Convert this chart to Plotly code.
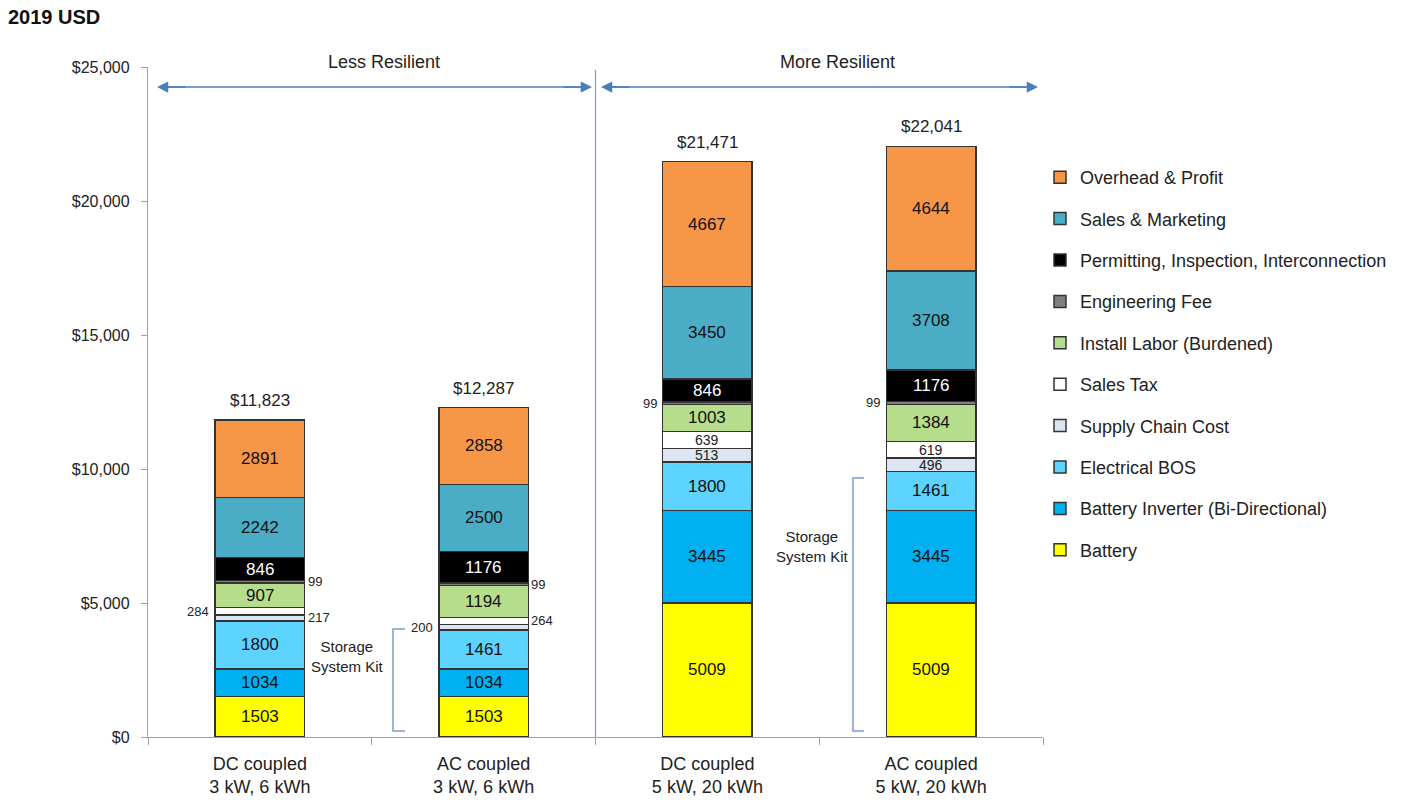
import plotly.graph_objects as go

categories = ["DC coupled<br>3 kW, 6 kWh", "AC coupled<br>3 kW, 6 kWh",
              "DC coupled<br>5 kW, 20 kWh", "AC coupled<br>5 kW, 20 kWh"]

# bottom-to-top stack order
battery = [1503, 1503, 5009, 5009]
inverter = [1034, 1034, 3445, 3445]
electrical_bos = [1800, 1461, 1800, 1461]
supply_chain = [217, 200, 513, 496]
sales_tax = [284, 264, 639, 619]
install_labor = [907, 1194, 1003, 1384]
engineering_fee = [99, 99, 99, 99]
permitting = [846, 1176, 846, 1176]
sales_marketing = [2242, 2500, 3450, 3708]
overhead_profit = [2891, 2858, 4667, 4644]
totals = [11823, 12287, 21471, 22041]

series_names = ["Battery", "Battery Inverter (Bi-Directional)", "Electrical BOS",
                "Supply Chain Cost", "Sales Tax", "Install Labor (Burdened)",
                "Engineering Fee", "Permitting, Inspection, Interconnection",
                "Sales & Marketing", "Overhead & Profit"]
series_values = [battery, inverter, electrical_bos, supply_chain, sales_tax,
                 install_labor, engineering_fee, permitting, sales_marketing,
                 overhead_profit]

colors = ["#FFFF00", "#00B0F0", "#5DD3FF", "#DCE6F2", "#FFFFFF",
          "#B5DD8B", "#7F7F7F", "#000000", "#4BACC6", "#F79646"]
text_colors = ["#111"] * 7 + ["white"] + ["#111"] * 2

# label placement per series per bar: in / small / left / right
placement = [
    ["in", "in", "in", "in"],
    ["in", "in", "in", "in"],
    ["in", "in", "in", "in"],
    ["right", "left", "small", "small"],
    ["left", "right", "small", "small"],
    ["in", "in", "in", "in"],
    ["right", "right", "left", "left"],
    ["in", "in", "in", "in"],
    ["in", "in", "in", "in"],
    ["in", "in", "in", "in"],
]

FONT = "Arial, Liberation Sans, sans-serif"

# layout geometry in page pixels
W, H = 1405, 803
L, T, PW, PH = 148, 67, 895, 670


def px_x(X):
    return (X - L) / PW


def px_y(Y):
    return (T + PH - Y) / PH


fig = go.Figure()
n = len(series_names)
for i, (name, vals) in enumerate(zip(series_names, series_values)):
    fig.add_trace(go.Bar(
        x=categories, y=vals, name=name,
        marker=dict(color=colors[i], line=dict(color="#333333", width=1.5)),
        width=0.4, legendgroup=name, legendrank=100 + n - i, hoverinfo="skip",
    ))

annotations = []
for j in range(len(categories)):
    base = 0
    for i, vals in enumerate(series_values):
        mid = base + vals[j] / 2
        p = placement[i][j]
        if p == "in":
            annotations.append(dict(x=j, y=mid, text=str(vals[j]), showarrow=False,
                                    font=dict(family=FONT, size=17, color=text_colors[i]),
                                    xanchor="center", yanchor="middle"))
        elif p == "small":
            annotations.append(dict(x=j, y=mid, text=str(vals[j]), showarrow=False,
                                    font=dict(family=FONT, size=14, color="#222"),
                                    xanchor="center", yanchor="middle"))
        elif p == "right":
            annotations.append(dict(x=j + 0.2, y=mid, text=str(vals[j]), showarrow=False,
                                    font=dict(family=FONT, size=13, color="#222"),
                                    xanchor="left", yanchor="middle", xshift=1))
        elif p == "left":
            annotations.append(dict(x=j - 0.2, y=mid, text=str(vals[j]), showarrow=False,
                                    font=dict(family=FONT, size=13, color="#222"),
                                    xanchor="right", yanchor="middle", xshift=-4))
        base += vals[j]
    annotations.append(dict(x=j, y=totals[j], text="${:,}".format(totals[j]), showarrow=False,
                            font=dict(family=FONT, size=17, color="#222"),
                            xanchor="center", yanchor="bottom", yshift=8))

ARROW = "#4A7EBB"
shapes = []
for (X0, X1) in [(157, 592), (601, 1038)]:
    shapes.append(dict(type="line", xref="paper", yref="paper",
                       x0=px_x(X0 + 4), x1=px_x(X1 - 4), y0=px_y(87), y1=px_y(87),
                       line=dict(color=ARROW, width=1.5)))
    annotations.append(dict(x=px_x(X0), y=px_y(87), xref="paper", yref="paper",
                            ax=30, ay=0, text="", showarrow=True, arrowhead=2,
                            arrowsize=1.5, arrowwidth=1.5, arrowcolor=ARROW))
    annotations.append(dict(x=px_x(X1), y=px_y(87), xref="paper", yref="paper",
                            ax=-30, ay=0, text="", showarrow=True, arrowhead=2,
                            arrowsize=1.5, arrowwidth=1.5, arrowcolor=ARROW))


def label(X, Y, text, size, **kw):
    d = dict(x=px_x(X), y=px_y(Y), xref="paper", yref="paper", text=text,
             showarrow=False, xanchor="center", yanchor="middle",
             font=dict(family=FONT, size=size, color="#222"))
    d.update(kw)
    return d


annotations.append(label(384, 62, "Less Resilient", 18))
annotations.append(label(837, 62, "More Resilient", 18))
annotations.append(label(347, 656, "Storage<br>System Kit", 15))
annotations.append(label(812, 546, "Storage<br>System Kit", 15))
annotations.append(dict(x=px_x(6), y=px_y(17), xref="paper", yref="paper",
                        text="<b>2019 USD</b>", xanchor="left", yanchor="middle",
                        showarrow=False, font=dict(family=FONT, size=20, color="#111")))

BR = "#7A9CC8"
shapes += [
    dict(type="line", xref="x", yref="paper", x0=1.5, x1=1.5, y0=0, y1=px_y(70),
         line=dict(color="#7DA2D6", width=1.3)),
    dict(type="path", xref="paper", yref="paper",
         path="M {a},{t} L {b},{t} L {b},{u} L {a},{u}".format(
             a=px_x(405), b=px_x(393), t=px_y(629), u=px_y(731)),
         line=dict(color=BR, width=1.5)),
    dict(type="path", xref="paper", yref="paper",
         path="M {a},{t} L {b},{t} L {b},{u} L {a},{u}".format(
             a=px_x(864), b=px_x(853), t=px_y(478), u=px_y(731)),
         line=dict(color=BR, width=1.5)),
]

fig.update_layout(
    barmode="stack",
    width=W, height=H, autosize=False,
    margin=dict(l=L, r=W - L - PW, t=T, b=H - T - PH, autoexpand=False),
    plot_bgcolor="white", paper_bgcolor="white",
    font=dict(family=FONT, color="#222"),
    showlegend=True,
    legend=dict(x=px_x(1040), xanchor="left", y=px_y(159), yanchor="top",
                traceorder="grouped", tracegroupgap=15,
                font=dict(family=FONT, size=18, color="#222"),
                itemclick=False),
    annotations=annotations, shapes=shapes,
)
fig.update_xaxes(showline=True, linecolor="#A0A0A0", linewidth=1.3, ticks="outside",
                 tickson="boundaries", ticklen=7, tickcolor="#A0A0A0",
                 ticklabelstandoff=10, automargin=False,
                 tickfont=dict(family=FONT, size=18, color="#222"), showgrid=False)
fig.update_yaxes(range=[0, 25000], tickvals=[0, 5000, 10000, 15000, 20000, 25000],
                 tickformat="$,", showline=True, linecolor="#A0A0A0", linewidth=1.3,
                 ticks="outside", ticklen=6, tickcolor="#A0A0A0", showgrid=False,
                 ticklabelstandoff=8, automargin=False,
                 tickfont=dict(family=FONT, size=16, color="#222"), zeroline=False)

fig.write_html("out.html", config={"displayModeBar": False},
               post_script="document.body.style.margin='0';document.body.style.overflow='hidden';")
